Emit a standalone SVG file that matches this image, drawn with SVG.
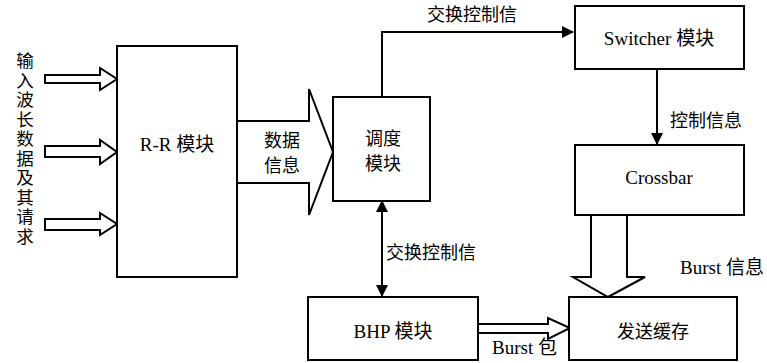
<svg xmlns="http://www.w3.org/2000/svg" width="767" height="363" viewBox="0 0 767 363">
<defs>
<style>
.box{fill:#fff;stroke:#000;stroke-width:2}
.hollow{fill:#fff;stroke:#000;stroke-width:2;stroke-linejoin:miter}
.line{fill:none;stroke:#000;stroke-width:2}
text{font-family:"Liberation Serif","Noto Sans CJK SC",serif;font-size:19px;fill:#000}
.cjk{font-family:"Noto Sans CJK SC","Liberation Sans",sans-serif;font-size:18px}
.mid{text-anchor:middle}
.vert{writing-mode:vertical-rl;text-orientation:upright;letter-spacing:2px;font-size:17.5px}
</style>
<marker id="arr" viewBox="0 0 12 12" refX="11" refY="6" markerWidth="12" markerHeight="12" markerUnits="userSpaceOnUse" orient="auto-start-reverse">
<path d="M0,0 L12,6 L0,12 Z" fill="#000"/>
</marker>
</defs>
<rect width="767" height="363" fill="#fff"/>

<g id="connectors">
<path class="line" d="M382,97 V32 H573" marker-end="url(#arr)"/>
<path class="line" d="M657,69 V144" marker-end="url(#arr)"/>
<path class="line" d="M382,201 V296" marker-start="url(#arr)" marker-end="url(#arr)"/>
<path class="hollow" d="M45,75 H100 V68 L117,79 L100,90 V83 H45 Z"/>
<path class="hollow" d="M45,146 H100 V140 L117,152 L100,164 V157 H45 Z"/>
<path class="hollow" d="M45,219 H100 V213 L117,224 L100,235 V230 H45 Z"/>
<path class="hollow" d="M237,121 H309 V89 L333,152 L309,215 V183 H237 Z"/>
<path class="hollow" d="M478,324 H548 V318 L570,328 L548,339 V333 H478 Z"/>
<path class="hollow" d="M591,213 H627 V277 H645 L608,297 L573,277 H591 Z"/>
</g>

<g id="input-label">
<text class="cjk vert" x="25" y="52">输入波长数据及其请求</text>
</g>

<g id="rr">
<rect class="box" x="117" y="46" width="120" height="231"/>
<text class="mid" x="177" y="151">R-R 模块</text>
</g>

<g id="data-label">
<text class="cjk mid" x="282" y="147">数据</text>
<text class="cjk mid" x="282" y="172">信息</text>
</g>

<g id="sched">
<rect class="box" x="333" y="97" width="97" height="104"/>
<text class="cjk mid" x="383" y="145">调度</text>
<text class="cjk mid" x="383" y="170">模块</text>
</g>

<g id="switcher">
<rect class="box" x="575" y="6" width="169" height="63"/>
<text class="mid" x="659" y="45">Switcher 模块</text>
</g>

<g id="crossbar">
<rect class="box" x="575" y="145" width="169" height="70"/>
<text class="mid" x="659" y="184">Crossbar</text>
</g>

<g id="bhp">
<rect class="box" x="308" y="297" width="170" height="63"/>
<text class="mid" x="393" y="338">BHP 模块</text>
</g>

<g id="buffer">
<rect class="box" x="569" y="297" width="168" height="63"/>
<text class="cjk mid" x="653" y="338">发送缓存</text>
</g>

<g id="labels">
<text class="cjk mid" x="472" y="21">交换控制信</text>
<text class="cjk" x="670" y="127">控制信息</text>
<text class="cjk" x="386" y="259">交换控制信</text>
<text x="680" y="274">Burst 信息</text>
<text x="492" y="354">Burst 包</text>
</g>
</svg>
